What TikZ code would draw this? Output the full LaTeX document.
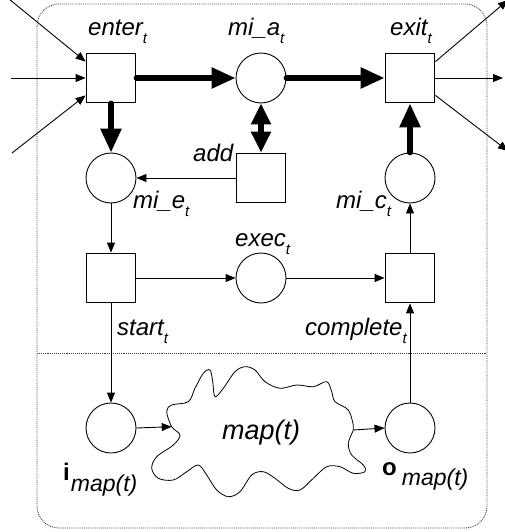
\documentclass[tikz,border=0pt]{standalone}
\usepackage{fontspec}
\setmainfont{Liberation Sans}
\usetikzlibrary{arrows.meta,calc}
\newcommand{\lsub}[1]{\raisebox{-8pt}{\fontsize{15}{15}\selectfont #1}}
\begin{document}
\begin{tikzpicture}[x=1pt,y=-1pt,
  trans/.style={draw, rectangle, line width=1.8pt, minimum size=49pt, inner sep=0pt},
  place/.style={draw, circle, line width=0.9pt, minimum size=50pt, inner sep=0pt},
  bigarc/.style={line width=5.5pt, line cap=round, -{Triangle[length=24pt,width=20pt]}},
  smallarc/.style={line width=0.9pt, -{Triangle[length=10pt,width=8pt]}},
  lbl/.style={font=\fontsize{24}{28}\selectfont\itshape, inner sep=0pt, anchor=base west},
  frame/.style={line width=0.9pt, densely dotted, black!75}
]
\useasboundingbox[fill=white] (0,0) rectangle (504,532);

% frame and divider
\draw[frame, rounded corners=22pt] (37,4) rectangle (487,528);
\draw[frame] (37,353) -- (487,353);

% places and transitions
\node[trans] (enter) at (111,78) {};
\node[place] (mia) at (261,78) {};
\node[trans] (exit) at (410,78) {};
\node[place] (mie) at (111,178) {};
\node[trans] (add) at (261,178) {};
\node[place] (mic) at (410,178) {};
\node[trans] (start) at (111,278) {};
\node[place] (exec) at (261,278) {};
\node[trans] (complete) at (410,278) {};
\node[place] (imap) at (111,428) {};
\node[place] (omap) at (410,428) {};

% cloud
\coordinate (cin) at (171.7,426.7);
\coordinate (cout) at (353.3,430);
\draw[line width=0.8pt] plot[smooth cycle, tension=0.55] coordinates {
 (171.7,426.7) (166.7,411.7) (171.7,405) (188.3,401.7) (195,388.3) (203.3,373.3)
 (210,370) (212.7,381.7) (215,396.7) (223.3,388.3) (235,371.7) (245,366.7)
 (255,370) (265,381.7) (280,388.3) (296.7,385) (313.3,386.7) (326.7,381.7)
 (331.7,391.7) (335,401.7) (348.3,410) (353.3,425) (353.3,430) (348.3,443.3)
 (351.7,455) (363.3,465) (365,471.7) (353.3,473.3) (340,466.7) (326.7,466.7)
 (313.3,478.3) (300,490) (288.3,488.3) (275,478.3) (263.3,471.7) (251.7,475)
 (240,491.7) (228.3,496.7) (216.7,490) (206.7,475) (198.3,465) (186.7,471.7)
 (173.3,480) (158.3,478.3) (151.7,468.3) (156.7,456.7) (173.3,445) (180,435)};
\node[lbl, font=\fontsize{27}{30}\selectfont\itshape] (maplbl) at (222,439) {map(t)};

% labels
\node[lbl] (enterL) at (88,36) {enter\lsub{t}};
\node[lbl] (miaL) at (228,36) {mi\_a\lsub{t}};
\node[lbl] (exitL) at (390,36) {exit\lsub{t}};
\node[lbl] (addL) at (193,161) {add};
\node[lbl] (mieL) at (133,208) {mi\_e\lsub{t}};
\node[lbl] (micL) at (336,208) {mi\_c\lsub{t}};
\node[lbl] (execL) at (235,246) {exec\lsub{t}};
\node[lbl] (startL) at (117,335) {start\lsub{t}};
\node[lbl] (completeL) at (305,335) {complete\lsub{t}};
\node[inner sep=0pt, anchor=base west] (iL) at (63,480)
  {\fontsize{24}{28}\selectfont\bfseries i\hspace{1pt}\raisebox{-11pt}{\mdseries\itshape\fontsize{23}{23}\selectfont map(t)}};
\node[inner sep=0pt, anchor=base west] (oL) at (382,475)
  {\fontsize{24}{28}\selectfont\bfseries o\hspace{5pt}\raisebox{-10pt}{\mdseries\itshape\fontsize{23}{23}\selectfont map(t)}};

% thick arcs
\draw[bigarc] (enter.east) -- (mia.west);
\draw[bigarc] (mia.east) -- (exit.west);
\draw[bigarc] (enter.south) -- (mie.north);
\draw[bigarc] (mic.north) -- (exit.south);
\draw[line width=5.5pt, {Triangle[length=21pt,width=19pt]}-{Triangle[length=21pt,width=19pt]}] (mia.south) -- (add.north);

% thin arcs
\draw[smallarc] (add.west) -- (mie.east);
\draw[smallarc] (mie.south) -- (start.north);
\draw[smallarc] (start.east) -- (exec.west);
\draw[smallarc] (exec.east) -- (complete.west);
\draw[smallarc] (complete.north) -- (mic.south);
\draw[smallarc] (start.south) -- (imap.north);
\draw[smallarc] (imap.east) -- (cin);
\draw[smallarc] (cout) -- (omap.west);
\draw[smallarc] (omap.north) -- (complete.south);

% external arcs
\coordinate (in1) at (-2,-10);
\coordinate (in2) at (11,78);
\coordinate (in3) at (12,153);
\coordinate (out1) at (508,0);
\coordinate (out2) at (503,78);
\coordinate (out3) at (508,151);
\draw[smallarc] (in1) -- ($(enter.north west)+(0,9)$);
\draw[smallarc] (in2) -- (enter.west);
\draw[smallarc] (in3) -- ($(enter.south west)+(0,-8)$);
\draw[smallarc] ($(exit.north east)+(0,9)$) -- (out1);
\draw[smallarc] (exit.east) -- (out2);
\draw[smallarc] ($(exit.south east)+(0,-8)$) -- (out3);
\end{tikzpicture}
\end{document}
